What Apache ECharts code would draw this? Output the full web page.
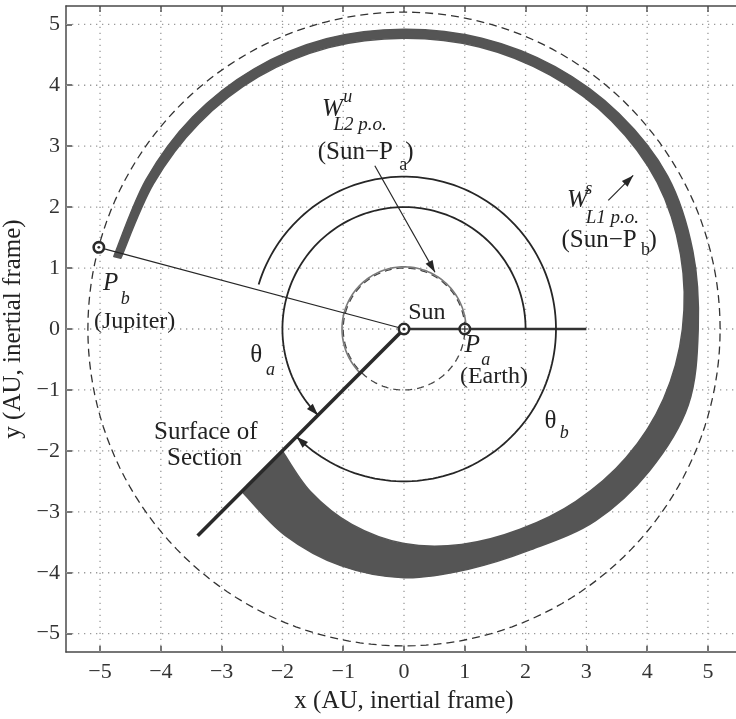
<!DOCTYPE html>
<html>
<head>
<meta charset="utf-8">
<script src="https://cdn.jsdelivr.net/npm/echarts@6/dist/echarts.min.js"></script>
<style>
  html, body { margin: 0; padding: 0; background: #ffffff; }
  #chart { width: 736px; height: 719px; }
</style>
</head>
<body>
<div id="chart"></div>
<script>
// ---- axes (AU, inertial frame) ----
const xRange = [-5.56, 5.56];
const yRange = [-5.3, 5.3];
const xTicks = [-5, -4, -3, -2, -1, 0, 1, 2, 3, 4, 5];
const yTicks = [-5, -4, -3, -2, -1, 0, 1, 2, 3, 4, 5];

// ---- bodies ----
const sunPos = [0, 0];
const earthPos = [1, 0];          // P_a
const jupiterPos = [-5.02, 1.34]; // P_b

// ---- reference orbits (radius, AU) ----
const earthOrbitR = 1.0;
const jupiterOrbitR = 5.2;

// ---- surface of section and reference line ----
const sectionAngleDeg = 225;
const sectionLength = 4.8;
const referenceLineLength = 3.0;

// ---- angle arcs: radius, start angle, end angle (deg) ----
const thetaAArc = [2.0, 0, 225];     // measured from the Sun–P_a line
const thetaBArc = [2.5, 163, -135];  // measured from the Sun–P_b line

// ---- W^u L2 p.o. (Sun–P_a) near Earth's orbit ----
const unstableArc = [1.02, 3, 226];

// ---- W^s L1 p.o. (Sun–P_b) tube: polar angle (deg), inner / outer radius (AU) ----
const tubeAngle = [166, 150, 135, 120, 105, 90, 75, 60, 45, 30, 15, 0,
                   -15, -30, -45, -60, -75, -90, -105, -120, -135];
const tubeInner = [4.80, 4.76, 4.77, 4.78, 4.78, 4.77, 4.79, 4.81, 4.83, 4.81, 4.71, 4.58,
                   4.42, 4.22, 4.00, 3.80, 3.66, 3.52, 3.32, 3.08, 2.83];
const tubeOuter = [4.92, 4.90, 4.92, 4.93, 4.93, 4.92, 4.94, 4.97, 5.00, 5.01, 4.92, 4.84,
                   4.84, 4.66, 4.45, 4.18, 4.08, 4.08, 4.02, 3.91, 3.77];

// ---- label arrows: [from, to] ----
const arrowWu = [[-0.48, 2.68], [0.51, 0.93]];
const arrowWs = [[3.36, 2.11], [3.77, 2.52]];

// ---- annotation text ----
const FONT = 'Liberation Serif';
const notes = [
  { text: 'W', pos: [-1.35, 3.6], size: 25, italic: true },
  { text: 'u', pos: [-1.0, 3.8], size: 18, italic: true },
  { text: 'L2 p.o.', pos: [-1.16, 3.34], size: 19, italic: true },
  { text: '(Sun\u2212P', pos: [-1.42, 2.9], size: 25 },
  { text: 'a', pos: [-0.08, 2.68], size: 18 },
  { text: ')', pos: [0.02, 2.9], size: 25 },

  { text: 'W', pos: [2.68, 2.11], size: 25, italic: true },
  { text: 's', pos: [2.98, 2.3], size: 18, italic: true },
  { text: 'L1 p.o.', pos: [2.99, 1.82], size: 19, italic: true },
  { text: '(Sun\u2212P', pos: [2.59, 1.46], size: 25 },
  { text: 'b', pos: [3.9, 1.29], size: 18 },
  { text: ')', pos: [4.02, 1.46], size: 25 },

  { text: 'Sun', pos: [0.07, 0.27], size: 24 },
  { text: 'P', pos: [1.0, -0.27], size: 25, italic: true },
  { text: 'a', pos: [1.27, -0.52], size: 18, italic: true },
  { text: '(Earth)', pos: [0.92, -0.78], size: 24 },

  { text: 'P', pos: [-4.95, 0.75], size: 25, italic: true },
  { text: 'b', pos: [-4.66, 0.49], size: 18, italic: true },
  { text: '(Jupiter)', pos: [-5.1, 0.12], size: 24 },

  { text: '\u03b8', pos: [-2.53, -0.43], size: 25 },
  { text: 'a', pos: [-2.27, -0.68], size: 18, italic: true },
  { text: '\u03b8', pos: [2.31, -1.52], size: 25 },
  { text: 'b', pos: [2.56, -1.71], size: 18, italic: true },

  { text: 'Surface of', pos: [-3.26, -1.70], size: 25, center: true },
  { text: 'Section', pos: [-3.28, -2.12], size: 25, center: true }
];

// ---------------------------------------------------------------
const INK = '#262626';
const D2R = Math.PI / 180;
const polar = (r, a) => [r * Math.cos(a * D2R), r * Math.sin(a * D2R)];
const minus = v => String(v).replace('-', '\u2212');

function arcPoints(api, r, a0, a1) {
  const n = Math.max(2, Math.ceil(Math.abs(a1 - a0) / 2));
  const pts = [];
  for (let i = 0; i <= n; i++) pts.push(api.coord(polar(r, a0 + (a1 - a0) * i / n)));
  return pts;
}

function arrowHead(tip, from, len, half, color) {
  const dx = tip[0] - from[0], dy = tip[1] - from[1];
  const L = Math.hypot(dx, dy) || 1;
  const ux = dx / L, uy = dy / L;
  const bx = tip[0] - ux * len, by = tip[1] - uy * len;
  return {
    type: 'polygon',
    shape: { points: [tip, [bx - uy * half, by + ux * half], [bx + uy * half, by - ux * half]] },
    style: { fill: color }
  };
}

function poly(points, style) {
  return { type: 'polyline', shape: { points }, style: Object.assign({ fill: null }, style) };
}

// smooth curve through pixel points (Catmull-Rom segments as cubic Béziers)
function curveThrough(pts, first) {
  const f = p => p.map(v => v.toFixed(2)).join(' ');
  let d = (first ? 'M' : 'L') + f(pts[0]);
  for (let i = 0; i < pts.length - 1; i++) {
    const p0 = pts[Math.max(0, i - 1)], p1 = pts[i], p2 = pts[i + 1], p3 = pts[Math.min(pts.length - 1, i + 2)];
    const c1 = [p1[0] + (p2[0] - p0[0]) / 6, p1[1] + (p2[1] - p0[1]) / 6];
    const c2 = [p2[0] - (p3[0] - p1[0]) / 6, p2[1] - (p3[1] - p1[1]) / 6];
    d += ' C' + f(c1) + ' ' + f(c2) + ' ' + f(p2);
  }
  return d;
}

// dotted grid
function renderGrid(params, api) {
  const children = [];
  const st = { stroke: '#9a9a9a', lineWidth: 1.3, lineDash: [1.3, 4.7] };
  xTicks.forEach(v => children.push(poly([api.coord([v, yRange[0]]), api.coord([v, yRange[1]])], st)));
  yTicks.forEach(v => children.push(poly([api.coord([xRange[0], v]), api.coord([xRange[1], v])], st)));
  return { type: 'group', children };
}

// tube of trajectories
function renderTube(params, api) {
  const outer = tubeAngle.map((a, i) => api.coord(polar(tubeOuter[i], a)));
  const inner = tubeAngle.map((a, i) => api.coord(polar(tubeInner[i], a))).reverse();
  const d = curveThrough(outer, true) + ' ' + curveThrough(inner, false) + ' Z';
  return {
    type: 'path',
    shape: { pathData: d },
    style: { fill: '#555555', stroke: '#555555', lineWidth: 1.5, lineJoin: 'round' }
  };
}

// orbits, lines, angle arcs
function renderGeometry(params, api) {
  const c = [];
  c.push(poly(arcPoints(api, jupiterOrbitR, 0, 360), { stroke: '#333', lineWidth: 1.3, lineDash: [8, 5] }));
  c.push(poly(arcPoints(api, earthOrbitR, 0, 360), { stroke: '#444', lineWidth: 1.3, lineDash: [7, 5] }));
  c.push(poly(arcPoints(api, unstableArc[0], unstableArc[1], unstableArc[2]), { stroke: '#7a7a7a', lineWidth: 1.6 }));

  // Sun–P_b line
  c.push(poly([api.coord(sunPos), api.coord(jupiterPos)], { stroke: INK, lineWidth: 1.2 }));
  // Sun–P_a reference line
  c.push(poly([api.coord(sunPos), api.coord([referenceLineLength, 0])], { stroke: '#333', lineWidth: 2.4 }));
  // surface of section
  c.push(poly([api.coord(sunPos), api.coord(polar(sectionLength, sectionAngleDeg))], { stroke: '#2a2a2a', lineWidth: 3.6 }));

  // angle arcs with arrowheads
  [thetaAArc, thetaBArc].forEach(a => {
    const [r, a0, a1] = a;
    c.push(poly(arcPoints(api, r, a0, a1), { stroke: INK, lineWidth: 1.8 }));
    const back = a1 - Math.sign(a1 - a0) * 4;
    c.push(arrowHead(api.coord(polar(r, a1)), api.coord(polar(r, back)), 12, 4, INK));
  });

  // label arrows
  [arrowWu, arrowWs].forEach(a => {
    const p0 = api.coord(a[0]), p1 = api.coord(a[1]);
    c.push(poly([p0, p1], { stroke: INK, lineWidth: 1.2 }));
    c.push(arrowHead(p1, p0, 12, 4, INK));
  });
  return { type: 'group', children: c };
}

// body markers
function renderBodies(params, api) {
  const c = [];
  const ring = (p, r) => ({ type: 'circle', shape: { cx: p[0], cy: p[1], r }, style: { fill: '#fff', stroke: '#2a2a2a', lineWidth: 2.6 } });
  const s = api.coord(sunPos), e = api.coord(earthPos), j = api.coord(jupiterPos);
  c.push(ring(s, 5.2));
  c.push({ type: 'circle', shape: { cx: s[0], cy: s[1], r: 1.6 }, style: { fill: '#2a2a2a' } });
  c.push(ring(e, 5.2));
  c.push(poly([[e[0] - 3.5, e[1]], [e[0] + 3.5, e[1]]], { stroke: '#2a2a2a', lineWidth: 1.2 }));
  c.push(poly([[e[0], e[1] - 3.5], [e[0], e[1] + 3.5]], { stroke: '#2a2a2a', lineWidth: 1.2 }));
  c.push(ring(j, 5.2));
  c.push({ type: 'circle', shape: { cx: j[0], cy: j[1], r: 1.4 }, style: { fill: '#2a2a2a' } });
  return { type: 'group', children: c };
}

// annotations
function renderNotes(params, api) {
  return {
    type: 'group',
    children: notes.map(n => {
      const p = api.coord(n.pos);
      return {
        type: 'text',
        x: p[0], y: p[1],
        style: {
          text: n.text,
          font: (n.italic ? 'italic ' : '') + n.size + 'px "' + FONT + '", serif',
          fill: '#222',
          align: n.center ? 'center' : 'left',
          verticalAlign: 'middle'
        }
      };
    })
  };
}

const chart = echarts.init(document.getElementById('chart'));
const axisLineStyle = { color: '#4a4a4a', width: 1.5 };
const labelStyle = { fontFamily: FONT, fontSize: 22, color: '#333', fontStyle: 'normal', fontWeight: 'normal' };

const custom = (name, renderItem, z) => ({
  name, type: 'custom', coordinateSystem: 'cartesian2d', xAxisIndex: 0, yAxisIndex: 0,
  data: [[0, 0]], renderItem, silent: true, z, clip: false, animation: false
});

chart.setOption({
  animation: false,
  backgroundColor: '#ffffff',
  textStyle: { fontFamily: FONT },
  grid: { left: 66, top: 6, width: 676, height: 646, containLabel: false, outerBoundsMode: 'none' },
  xAxis: [
    {
      type: 'value', min: xRange[0], max: xRange[1], position: 'bottom',
      axisLine: { show: true, onZero: false, lineStyle: axisLineStyle },
      axisTick: { show: true, inside: true, length: 6, customValues: xTicks, lineStyle: axisLineStyle },
      axisLabel: Object.assign({ customValues: xTicks, formatter: minus, margin: 9 }, labelStyle),
      splitLine: { show: false },
      name: 'x (AU, inertial frame)', nameLocation: 'middle', nameGap: 37,
      nameTextStyle: { fontFamily: FONT, fontSize: 25, color: '#222' }
    },
    {
      type: 'value', min: xRange[0], max: xRange[1], position: 'top',
      axisLine: { show: true, onZero: false, lineStyle: axisLineStyle },
      axisTick: { show: true, inside: true, length: 6, customValues: xTicks, lineStyle: axisLineStyle },
      axisLabel: { show: false }, splitLine: { show: false }
    }
  ],
  yAxis: [
    {
      type: 'value', min: yRange[0], max: yRange[1], position: 'left',
      axisLine: { show: true, onZero: false, lineStyle: axisLineStyle },
      axisTick: { show: true, inside: true, length: 6, customValues: yTicks, lineStyle: axisLineStyle },
      axisLabel: Object.assign({ customValues: yTicks, formatter: minus, margin: 6 }, labelStyle),
      splitLine: { show: false },
      name: 'y (AU, inertial frame)', nameLocation: 'middle', nameGap: 34, nameRotate: 90,
      nameTextStyle: { fontFamily: FONT, fontSize: 25, color: '#222' }
    },
    {
      type: 'value', min: yRange[0], max: yRange[1], position: 'right',
      axisLine: { show: true, onZero: false, lineStyle: axisLineStyle },
      axisTick: { show: true, inside: true, length: 6, customValues: yTicks, lineStyle: axisLineStyle },
      axisLabel: { show: false }, splitLine: { show: false }
    }
  ],
  series: [
    custom('grid', renderGrid, 1),
    custom('W^s L1 p.o. tube', renderTube, 2),
    custom('geometry', renderGeometry, 3),
    custom('bodies', renderBodies, 4),
    custom('notes', renderNotes, 5)
  ]
});
</script>
</body>
</html>
